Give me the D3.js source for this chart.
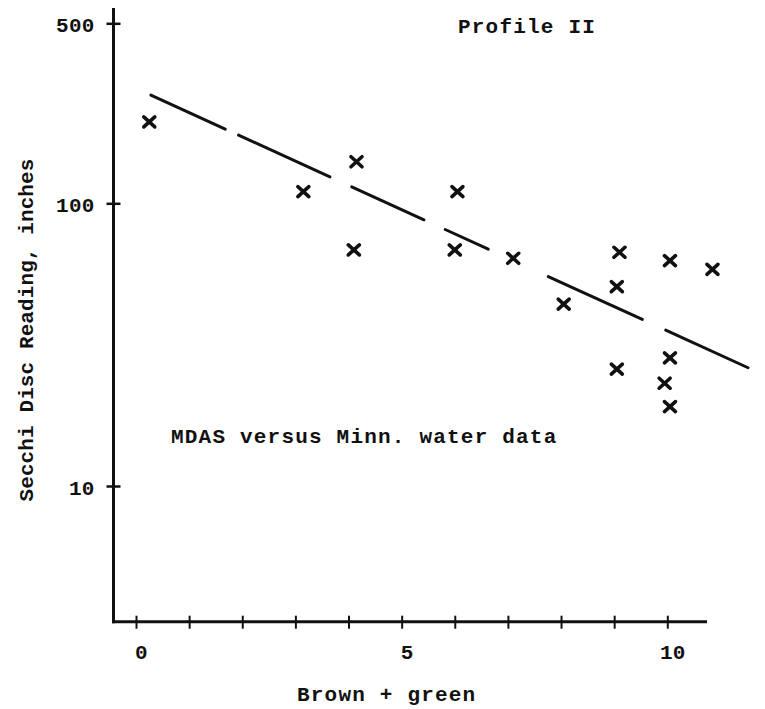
<!DOCTYPE html>
<html>
<head>
<meta charset="utf-8">
<script src="https://cdn.jsdelivr.net/npm/d3@7"></script>
<style>
  html, body { margin: 0; padding: 0; background: #fff; }
  svg { display: block; }
  text { font-family: "Liberation Mono", "DejaVu Sans Mono", monospace; fill: #111; }
</style>
</head>
<body>
<svg id="chart" width="765" height="709"></svg>
<script>
// ---- data ----
const xTickValues = [0, 1, 2, 3, 4, 5, 6, 7, 8, 9, 10];
const xTickLabels = ["0", "", "", "", "", "5", "", "", "", "", "10"];
const yTickValues = [10, 100, 500];
const yTickLabels = ["10", "100", "500"];

const pointX = [0.25, 3.15, 4.15, 4.1, 6.05, 6.0, 7.1, 9.1, 10.05, 10.85, 9.05, 8.05, 9.05, 10.05, 9.95, 10.05];
const pointY = [207, 111, 145, 68.4, 111, 68.4, 63.9, 67.1, 62.7, 58.4, 50.7, 44.0, 25.9, 28.4, 23.1, 19.1];

// fitted line (end points) and its hand-drawn dash pieces (x ranges)
const fitX = [0.28, 11.52];
const fitY = [263, 26.2];
const dashStart = [0.28, 1.93, 4.06, 5.82, 7.76, 9.97];
const dashEnd   = [1.68, 3.65, 5.42, 6.63, 9.53, 11.52];

const title = "Profile II";
const note = "MDAS versus Minn. water data";
const xLabel = "Brown + green";
const yLabel = "Secchi Disc Reading, inches";

// ---- drawing ----
const svg = d3.select("#chart");
const ink = "#111";

const x = d3.scaleLinear().domain([0, 10]).range([136, 667.3]);
const y = d3.scaleLog().domain([10, 100, 500]).range([486, 203.3, 23.3]);

const axisX0 = 113.5, axisY0 = 621.7;

// axes lines
svg.append("line").attr("x1", axisX0).attr("x2", axisX0).attr("y1", 8).attr("y2", axisY0 + 1.5)
  .attr("stroke", ink).attr("stroke-width", 3);
svg.append("line").attr("x1", axisX0 - 1.5).attr("x2", 707).attr("y1", axisY0).attr("y2", axisY0)
  .attr("stroke", ink).attr("stroke-width", 3);

const fontSize = 21, spacing = 1.2;

// y axis ticks via d3 axis
const gy = svg.append("g").attr("transform", `translate(${axisX0},0)`)
  .call(d3.axisLeft(y).tickValues(yTickValues).tickFormat((d, i) => yTickLabels[i]).tickSize(7).tickPadding(12));
gy.select(".domain").remove();
gy.selectAll(".tick line").attr("x1", -7).attr("x2", 7).attr("stroke", ink).attr("stroke-width", 2.5);
gy.selectAll(".tick text").attr("font-size", fontSize).attr("font-weight", "bold")
  .attr("letter-spacing", 0.2).attr("fill", ink)
  .attr("font-family", "Liberation Mono, monospace").attr("dy", "0.4em");

// x axis ticks via d3 axis
const gx = svg.append("g").attr("transform", `translate(0,${axisY0})`)
  .call(d3.axisBottom(x).tickValues(xTickValues).tickFormat((d, i) => xTickLabels[i]).tickSize(7).tickPadding(15));
gx.select(".domain").remove();
gx.selectAll(".tick line").attr("y1", -6).attr("y2", 7).attr("stroke", ink).attr("stroke-width", 2);
gx.selectAll(".tick text").attr("font-size", fontSize).attr("font-weight", "bold").attr("fill", ink)
  .attr("font-family", "Liberation Mono, monospace").attr("dx", 5).attr("letter-spacing", 0.2);

// fitted dashed line
const px0 = x(fitX[0]), px1 = x(fitX[1]);
const py0 = y(fitY[0]), py1 = y(fitY[1]);
const lineY = px => py0 + (py1 - py0) * (px - px0) / (px1 - px0);
svg.append("g").selectAll("line").data(dashStart.map((s, i) => [s, dashEnd[i]])).join("line")
  .attr("x1", d => x(d[0])).attr("y1", d => lineY(x(d[0])))
  .attr("x2", d => x(d[1])).attr("y2", d => lineY(x(d[1])))
  .attr("stroke", ink).attr("stroke-width", 3).attr("stroke-linecap", "round");

// x markers
const mx = 5.5, my = 5;
svg.append("g").selectAll("path").data(pointX.map((v, i) => [v, pointY[i]])).join("path")
  .attr("d", d => {
    const cx = x(d[0]), cy = y(d[1]);
    return `M${cx - mx},${cy - my}L${cx + mx},${cy + my}M${cx - mx},${cy + my}L${cx + mx},${cy - my}`;
  })
  .attr("stroke", ink).attr("stroke-width", 3.6).attr("stroke-linecap", "round").attr("fill", "none");

// texts
svg.append("text").attr("x", 458).attr("y", 32.5).attr("font-size", fontSize).attr("font-weight", "bold")
  .attr("letter-spacing", spacing).text(title);
svg.append("text").attr("x", 171).attr("y", 443).attr("font-size", fontSize).attr("font-weight", "bold")
  .attr("letter-spacing", spacing).text(note);
svg.append("text").attr("x", 297).attr("y", 700.5).attr("font-size", fontSize).attr("font-weight", "bold")
  .attr("letter-spacing", spacing).text(xLabel);
svg.append("text").attr("transform", "translate(33,330) rotate(-90)").attr("text-anchor", "middle")
  .attr("font-size", fontSize).attr("font-weight", "bold").attr("letter-spacing", 0.1).text(yLabel);
</script>
</body>
</html>
